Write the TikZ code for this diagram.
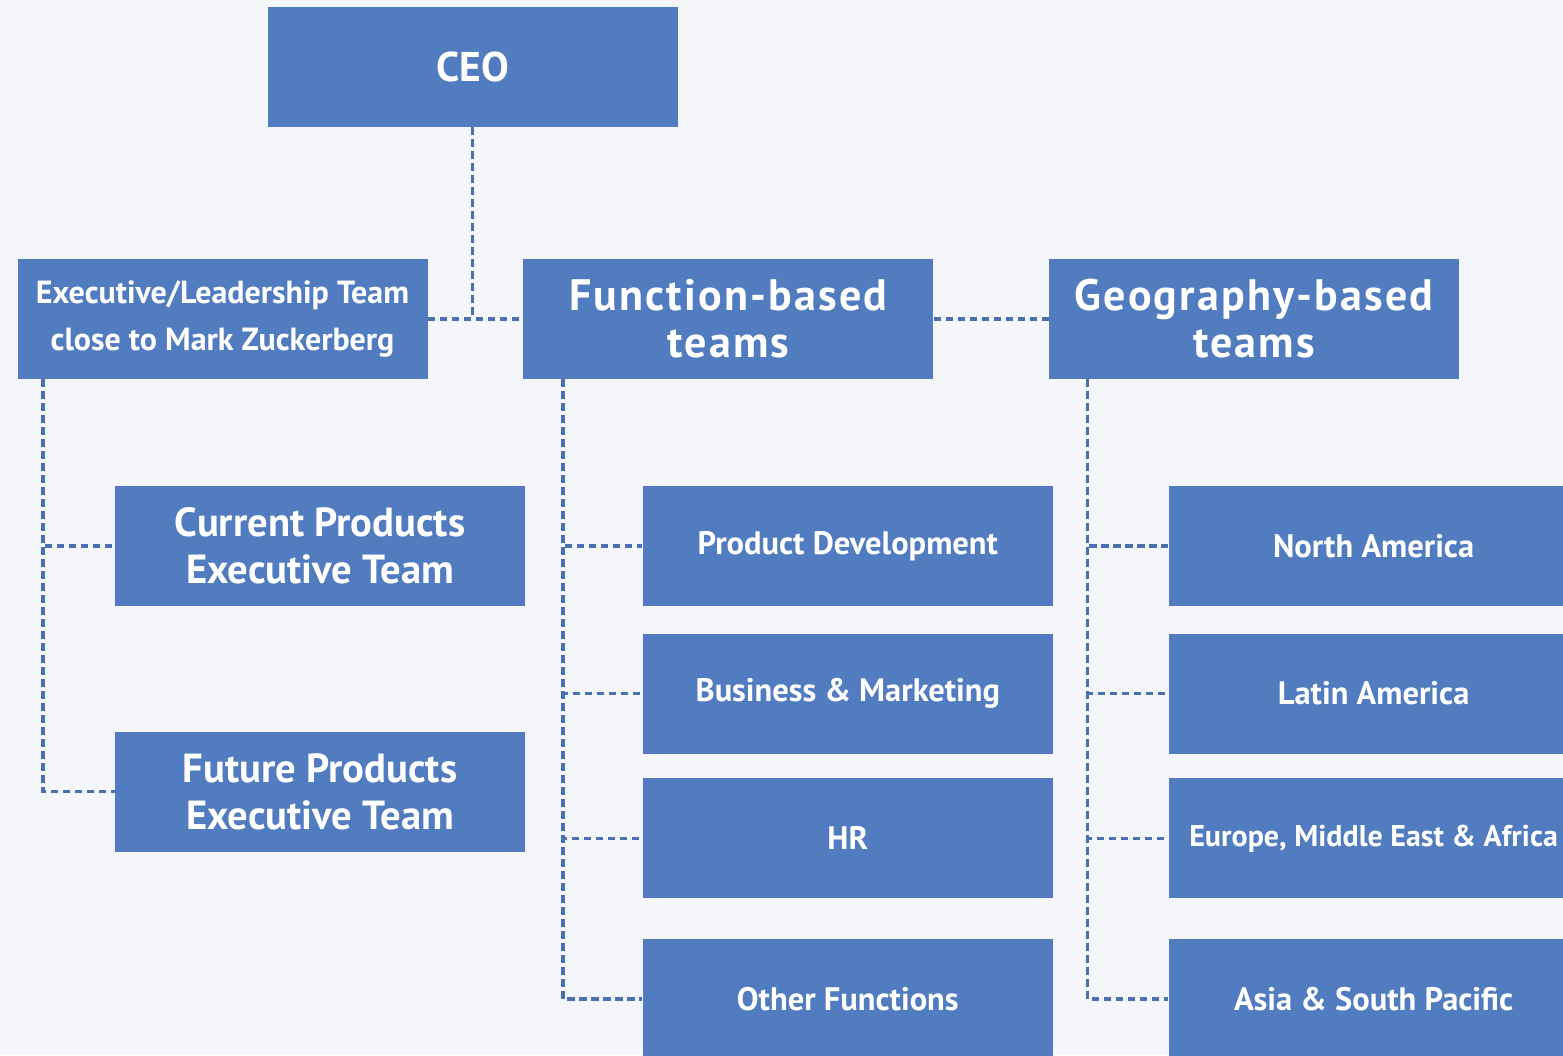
\documentclass[tikz,border=0pt]{standalone}
\usepackage{fontspec}
\setmainfont{PT Sans}
\newfontfamily\headfont[LetterSpace=5]{PT Sans}
\usetikzlibrary{%
  positioning,% wg. " of "
  calc%
}
\definecolor{boxblue}{HTML}{517CBF}
\definecolor{lineblue}{HTML}{4A70B0}
\definecolor{pagebg}{HTML}{F5F6FA}

\begin{document}
\begin{tikzpicture}[x=0.5pt,y=-0.5pt,
    unit/.style={rectangle, fill=boxblue, text=white, minimum width=205pt, minimum height=60pt,
      inner sep=0pt, align=center, font=\bfseries\fontsize{16.25}{23.5}\selectfont},
    head/.style={unit, font=\headfont\bfseries\fontsize{22}{23.5}\selectfont},
    exec/.style={unit, font=\bfseries\fontsize{20.3}{23.5}\selectfont},
    link/.style={draw=lineblue, line width=1.75pt, dash pattern=on 3.75pt off 2.25pt}]
    \fill[pagebg] (0,0) rectangle (1563,1055);
    \clip (0,0) rectangle (1563,1055);

    \node[unit, font=\bfseries\fontsize{20.75}{23.5}\selectfont] (ceo) at (472.5,67) {CEO};

    %second row
    \node[unit, font=\bfseries\fontsize{16}{23.5}\selectfont] (lead) at (222.5,319) {Executive/Leadership Team\\close to Mark Zuckerberg};
    \node[head] (func) [right=47.5pt of lead] {Function-based\\teams};
    \node[head] (geo) [right=57.5pt of func] {Geography-based\\teams};

    %product teams
    \node[exec] (cur) [below=53pt of lead, xshift=48.75pt] {Current Products\\Executive Team};
    \node[exec] (fut) [below=62.5pt of cur] {Future Products\\Executive Team};

    %functions
    \node[unit] (dev) [below=53pt of func, xshift=59.75pt] {Product Development};
    \node[unit] (biz) [below=13.5pt of dev] {Business \& Marketing};
    \node[unit] (hr) [below=12pt of biz] {HR};
    \node[unit] (other) [below=20pt of hr] {Other Functions};

    %regions
    \node[unit] (na) [below=53pt of geo, xshift=59.75pt] {North America};
    \node[unit] (latam) [below=13.5pt of na] {Latin America};
    \node[unit, font=\bfseries\fontsize{15}{23.5}\selectfont] (emea) [below=12pt of latam] {Europe, Middle East \& Africa};
    \node[unit] (apac) [below=20pt of emea] {Asia \& South Pacific};

    \path[link]
     (ceo.south) -- (ceo.south |- func.west)
     (lead.east) -- (func.west)
     (func.east) -- (geo.west);

    \coordinate (leadspine) at ([xshift=13pt]lead.south west);
    \coordinate (funcspine) at ([xshift=20pt]func.south west);
    \coordinate (geospine) at ([xshift=19.5pt]geo.south west);

    \foreach \n in {cur,fut}
      \path[link] (leadspine) |- (\n.west);
    \foreach \n in {dev,biz,hr,other}
      \path[link] (funcspine) |- (\n.west);
    \foreach \n in {na,latam,emea,apac}
      \path[link] (geospine) |- (\n.west);
\end{tikzpicture}
\end{document}
